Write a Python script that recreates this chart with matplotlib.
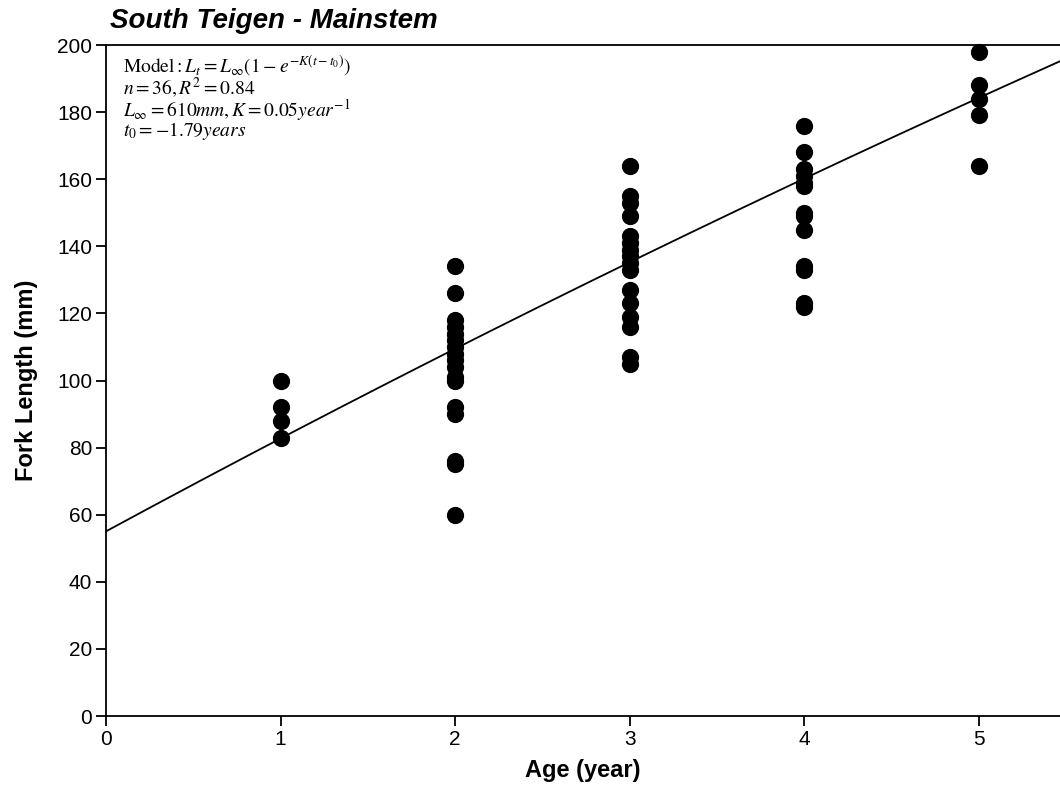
import matplotlib.pyplot as plt
import numpy as np

plt.rcParams['font.family'] = ['Liberation Sans', 'DejaVu Sans']
plt.rcParams['mathtext.fontset'] = 'stix'

# observed fork lengths (mm) by age
age1 = [100, 92, 88, 83]
age2 = [134, 126, 118, 116, 114, 112, 110, 108, 106, 104, 101, 100, 92, 90, 76, 75, 60]
age3 = [164, 155, 153, 149, 143, 141, 139, 137, 135, 133, 127, 123, 119, 116, 107, 105]
age4 = [176, 168, 163, 161, 159, 158, 150, 149, 145, 134, 133, 123, 122]
age5 = [198, 188, 184, 179, 164]

ages = [1, 2, 3, 4, 5]
groups = [age1, age2, age3, age4, age5]

# von Bertalanffy curve as drawn
L_inf = 860.0
K = 0.035
t0 = -1.89

annot = [
    r"$\mathrm{Model}: L_t = L_\infty(1-e^{-K(t-t_0)})$",
    r"$n = 36, R^2 = 0.84$",
    r"$L_\infty = 610mm, K = 0.05year^{-1}$",
    r"$t_0 = -1.79years$",
]

fig = plt.figure(figsize=(10.6, 7.91), dpi=100)
ax = fig.add_axes([0.1, 0.0948, 0.9, 0.8483])

for a, vals in zip(ages, groups):
    ax.scatter([a] * len(vals), vals, s=130, color='black', zorder=3, clip_on=False)

t = np.linspace(0, 5.47, 200)
ax.plot(t, L_inf * (1 - np.exp(-K * (t - t0))), color='black', lw=1.3)

ax.set_xlim(0, 5.464)
ax.set_ylim(0, 200)
ax.set_xticks(range(6))
ax.set_yticks(range(0, 201, 20))
ax.tick_params(direction='out', length=7, width=1.3, labelsize=15, pad=3)
for s in ['left', 'bottom', 'top']:
    ax.spines[s].set_linewidth(1.3)
ax.spines['right'].set_visible(False)

ax.set_xlabel('Age (year)', fontsize=17, fontweight='bold', labelpad=7)
ax.set_ylabel('Fork Length (mm)', fontsize=17, fontweight='bold', labelpad=14)
fig.text(0.104, 0.973, 'South Teigen - Mainstem', fontsize=20, fontweight='bold',
         fontstyle='italic', va='center')

# model annotation as one block
ax.text(0.018, 0.988, "\n".join(annot), transform=ax.transAxes, fontsize=14,
        va='top', ha='left', linespacing=0.85)

fig.savefig('out.png', dpi=100)
